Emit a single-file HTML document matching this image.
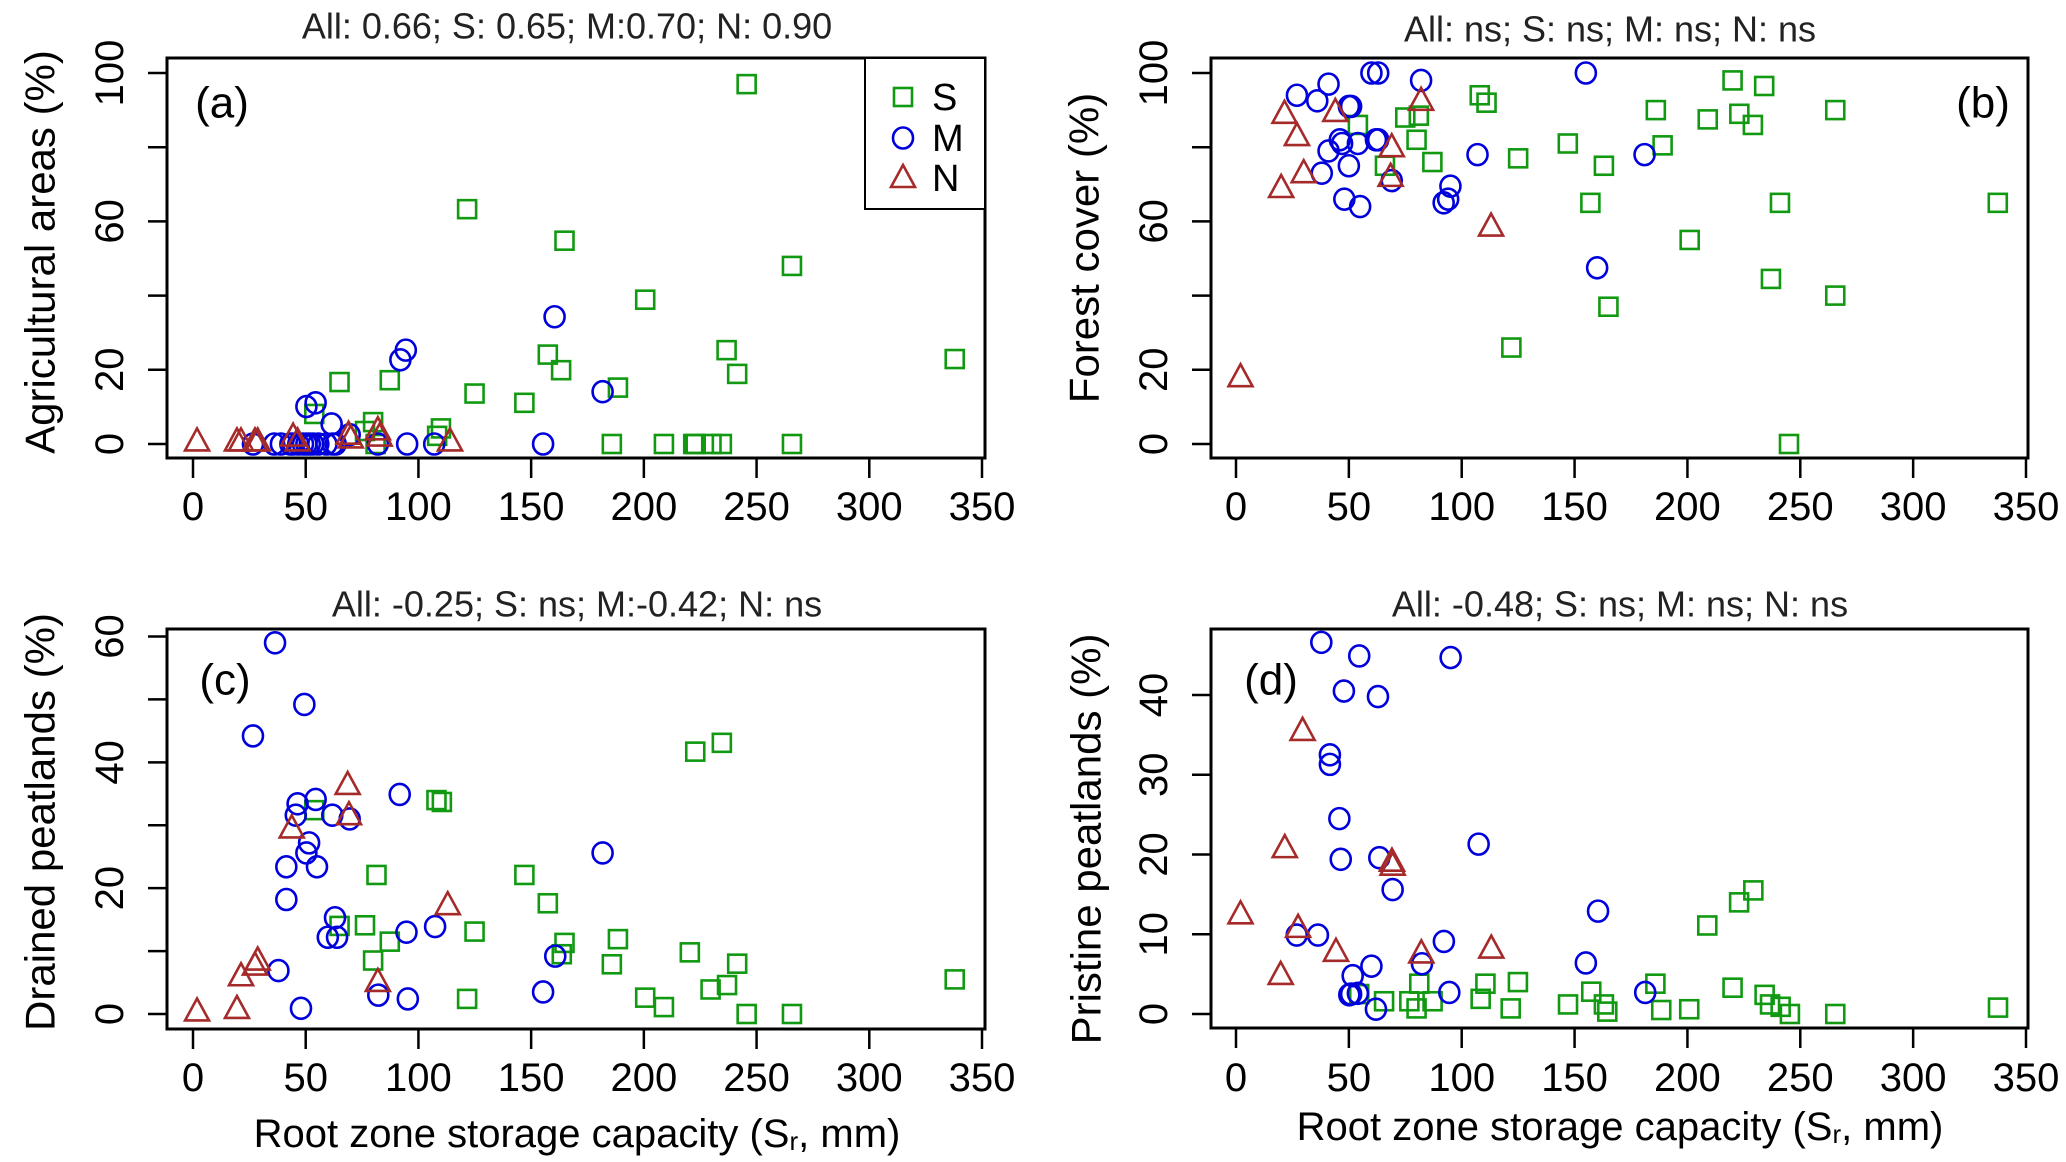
<!DOCTYPE html>
<html><head><meta charset="utf-8">
<style>
html,body{margin:0;padding:0;background:#fff;}
svg{display:block;font-family:"Liberation Sans",Arial,sans-serif;}
</style></head>
<body>
<svg id="chart" width="2066" height="1162" viewBox="0 0 2066 1162" xmlns="http://www.w3.org/2000/svg"></svg>
<script>
// ---- data: [Sr (mm), value] ----
const aS = [[245.6,97],[121.6,63.3],[164.8,54.8],[265.7,48],[200.6,38.9],[236.7,25.3],[157.4,24.1],[163.3,19.9],[241.4,18.9],[65,16.7],[87.3,17.2],[337.9,22.9],[188.5,15.2],[124.9,13.6],[147,11.1],[53.8,8.1],[79.9,5.9],[76.3,3.5],[110,4.2],[108.3,2.2],[81,0],[185.8,0],[208.9,0],[221.9,0],[223,0],[230,0],[234.6,0],[265.7,0]];
const aM = [[160.4,34.3],[94.4,25.3],[92,22.7],[181.7,14.1],[54.4,11.1],[50.3,10.1],[61.5,5.4],[69.5,2.5],[155.3,0],[95,0],[107,0],[82,0],[26.6,0],[36,0],[39,0],[43.2,0],[46.7,0],[48.8,0],[50.3,0],[51.8,0],[55.6,0],[59.2,0],[63.3,0],[44.4,0],[53.3,0],[62,0]];
const aN = [[1.8,0.7],[19.5,0.7],[21.3,0.7],[27.5,0.7],[28.7,0.7],[44.4,2],[46.4,0.7],[69,2.5],[70,1.5],[82,3.7],[82.8,2],[114,0.7]];

const bS = [[54,86],[75,88],[81,88.5],[80,82],[66,75],[87,76],[108,94],[111,92],[125,77],[147,81],[163,75],[157,65],[122,26],[186,90],[189,80.5],[201,55],[165,37],[209,87.5],[220,98],[223,89],[229,86],[234,96.5],[237,44.5],[241,65],[245,0],[265.5,90],[265.5,40],[337.5,65]];
const bM = [[27,94],[36,92.5],[41,97],[51,91],[50,91],[46,82],[47,81],[41,79],[38,73],[50,75],[54,81],[62,82],[63,82],[60,100],[63,100],[82,98],[48,66],[55,64],[69,71],[92,65],[94,66],[95,69.5],[107,78],[155,100],[160,47.5],[181,78]];
const bN = [[21.5,89],[27,83],[30,73],[20,69],[44,89.5],[69,80],[68.5,72],[82,92.5],[113,58.6],[2,18]];

const cS = [[222.8,41.7],[234.6,43.1],[108,34],[110.4,33.7],[53.8,32.4],[81.4,22.1],[147,22.1],[157.4,17.6],[76.3,14.1],[65,14],[124.9,13.1],[188.5,11.9],[164.8,11.3],[163.6,9.5],[87.3,11.5],[79.9,8.5],[220.4,9.8],[185.8,7.9],[241.4,8],[236.9,4.6],[229.6,3.9],[337.9,5.5],[121.6,2.4],[200.6,2.6],[208.9,1.1],[245.6,0],[265.7,0]];
const cM = [[36.4,59],[49.4,49.2],[26.6,44.2],[91.7,34.9],[54.4,34.1],[46.4,33.4],[45.6,31.6],[61.8,31.6],[69.5,31],[51.5,27.2],[50.3,25.6],[41.4,23.4],[55,23.4],[181.7,25.6],[41.4,18.2],[63,15.3],[107.4,13.9],[94.7,13],[59.8,12.2],[63.9,12.2],[37.9,6.9],[160.7,9.2],[82.2,3],[155.3,3.5],[95.3,2.4],[47.9,0.9]];
const cN = [[68.6,36.4],[69.2,31.6],[43.8,29.5],[113,17.3],[28.7,8.5],[27.5,7.7],[21.3,6],[82,5.1],[1.8,0.4],[19.5,0.8]];

const dS = [[229.2,15.5],[222.9,14],[208.8,11.1],[124.9,4],[110.5,3.8],[81.2,3.8],[185.8,3.8],[157.4,2.8],[220,3.3],[234.2,2.4],[236.6,1.2],[241.3,0.9],[245.4,0],[265.5,0],[337.6,0.8],[54.6,2.5],[65.6,1.6],[76.8,1.6],[80,0.7],[87.1,1.6],[108.4,1.9],[121.7,0.7],[147.1,1.2],[163,1.2],[164.5,0.3],[188.4,0.5],[200.8,0.6]];
const dM = [[37.8,46.6],[54.6,44.9],[95.1,44.7],[47.8,40.5],[62.9,39.8],[41.6,32.5],[41.6,31.3],[45.8,24.5],[46.4,19.4],[63.5,19.6],[107.5,21.3],[69.4,15.6],[160.4,12.9],[26.9,9.9],[36.3,9.9],[92.1,9.1],[82.4,6.3],[60,6],[155,6.4],[51.7,4.8],[50.2,2.4],[51,2.5],[54,2.6],[94.5,2.7],[181.3,2.7],[62,0.6]];
const dN = [[29.5,35.5],[21.6,20.8],[69.1,19.1],[69.4,18.6],[2,12.5],[27.5,10.8],[44.3,7.8],[82.1,7.6],[113.1,8.2],[19.8,4.9]];

const xTicks = [0,50,100,150,200,250,300,350];
const titles = ["All: 0.66; S: 0.65; M:0.70; N: 0.90","All: ns; S: ns; M: ns; N: ns","All: -0.25; S: ns; M:-0.42; N: ns","All: -0.48; S: ns; M: ns; N: ns"];
const yTitles = ["Agricultural areas (%)","Forest cover (%)","Drained peatlands (%)","Pristine peatlands (%)"];
const yTicksA = [0,20,40,60,80,100], yLabA = [0,20,60,100];
const yTicksC = [0,10,20,30,40,50,60], yLabC = [0,20,40,60];
const yTicksD = [0,10,20,30,40], yLabD = [0,10,20,30,40];

const GREEN="#119911", BLUE="#0000dd", RED="#a52a2a";
const svg=document.getElementById('chart');
const NS="http://www.w3.org/2000/svg";
function mk(tag,attrs,parent){const e=document.createElementNS(NS,tag);for(const k in attrs)e.setAttribute(k,attrs[k]);(parent||svg).appendChild(e);return e;}

function sym(g,type,cx,cy){
  let e;
  if(type==='S'){e=mk('rect',{x:cx-9,y:cy-9,width:18,height:18,fill:'none',stroke:GREEN,'stroke-width':2.6},g);}
  else if(type==='M'){e=mk('ellipse',{cx:cx,cy:cy,rx:10,ry:10.5,fill:'none',stroke:BLUE,'stroke-width':2.6},g);}
  else {e=mk('polygon',{points:`${cx},${cy-13} ${cx-12},${cy+9} ${cx+12},${cy+9}`,fill:'none',stroke:RED,'stroke-width':2.6},g);}
  return e;
}

const panels=[
 {id:'a',x0:193,x350:982,box:[167,58,985,458],y0:444,yRefV:100,yRef:73,ticks:yTicksA,labs:yLabA,S:aS,M:aM,N:aN,tX:567,tY:26,ylX:40,ylY:252,tlX:110,lab:'(a)',labX:222,labY:103,xtY:507},
 {id:'b',x0:1236,x350:2026,box:[1211,58,2028,458],y0:444,yRefV:100,yRef:73,ticks:yTicksA,labs:yLabA,S:bS,M:bM,N:bN,tX:1610,tY:29,ylX:1084,ylY:248,tlX:1154,lab:'(b)',labX:1983,labY:103,xtY:507},
 {id:'c',x0:193,x350:982,box:[167,629,985,1029],y0:1014,yRefV:60,yRef:636.5,ticks:yTicksC,labs:yLabC,S:cS,M:cM,N:cN,tX:577,tY:604,ylX:40,ylY:822,tlX:110,lab:'(c)',labX:225,labY:680,xtY:1078,xl:[577,1134]},
 {id:'d',x0:1236,x350:2026,box:[1211,629,2028,1028],y0:1014,yRefV:40,yRef:695,ticks:yTicksD,labs:yLabD,S:dS,M:dM,N:dN,tX:1620,tY:604,ylX:1086,ylY:839,tlX:1154,lab:'(d)',labX:1271,labY:680,xtY:1078,xl:[1620,1127]}
];

panels.forEach((p,i)=>{
  const g=mk('g',{});
  
  
  const xs=v=>p.x0+(p.x350-p.x0)*v/350;
  const ys=v=>p.y0+(p.yRef-p.y0)*v/p.yRefV;
  const [l,t,r,b]=p.box;
  const box=mk('rect',{x:l,y:t,width:r-l,height:b-t,fill:'none',stroke:'#000','stroke-width':3},g);
  
  
  xTicks.forEach(v=>{
    const tk=mk('line',{x1:xs(v),x2:xs(v),y1:b,y2:b+20,stroke:'#000','stroke-width':2.5},g);
    
    
    const tl=mk('text',{x:xs(v),y:p.xtY,'font-size':40,'text-anchor':'middle','dominant-baseline':'central',fill:'#000'},g);
    tl.textContent=v;
    
    
  });
  p.ticks.forEach(v=>{
    const tk=mk('line',{x1:l,x2:l-19,y1:ys(v),y2:ys(v),stroke:'#000','stroke-width':2.5},g);
    
    
  });
  p.labs.forEach(v=>{
    const tl=mk('text',{x:0,y:0,'font-size':40,'text-anchor':'middle','dominant-baseline':'central',fill:'#000',transform:`translate(${p.tlX},${ys(v)}) rotate(-90)`},g);
    tl.textContent=v;
    
    
  });
  const yt=mk('text',{x:0,y:0,'font-size':42,'text-anchor':'middle','dominant-baseline':'central',fill:'#000',transform:`translate(${p.ylX},${p.ylY}) rotate(-90)`},g);
  yt.textContent=yTitles[i];
  
  
  const ti=mk('text',{x:p.tX,y:p.tY,'font-size':36,'text-anchor':'middle','dominant-baseline':'central',fill:'#222'},g);
  ti.textContent=titles[i];
  
  
  const pl=mk('text',{x:p.labX,y:p.labY,'font-size':44,'text-anchor':'middle','dominant-baseline':'central',fill:'#000'},g);
  pl.textContent=p.lab;
  
  
  if(p.xl){
    const xt=mk('text',{x:p.xl[0],y:p.xl[1],'font-size':40,'text-anchor':'middle','dominant-baseline':'central',fill:'#000'},g);
    xt.innerHTML='Root zone storage capacity (S<tspan font-size="26" dy="7">r</tspan><tspan dy="-7">, mm)</tspan>';
    
    
  }
  [['S',p.S],['M',p.M],['N',p.N]].forEach(([k,arr])=>{
    arr.forEach(d=>{
      const e=sym(g,k,xs(d[0]),ys(d[1]));
      
      
    });
  });
});

const lg=mk('g',{});


const lb=mk('rect',{x:865,y:58,width:120,height:151,fill:'#fff',stroke:'#000','stroke-width':2},lg);


[['S',97],['M',138],['N',178]].forEach(([k,y])=>{
  const e=sym(lg,k,903,y);
  
  
  const t=mk('text',{x:932,y:y+1,'font-size':38,'dominant-baseline':'central',fill:'#000'},lg);
  t.textContent=k;
  
  
});
</script>
</body></html>
